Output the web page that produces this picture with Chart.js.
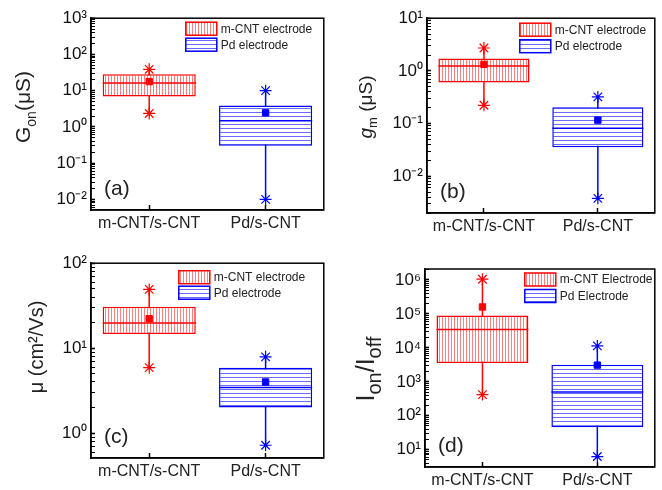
<!DOCTYPE html>
<html>
<head>
<meta charset="utf-8">
<script src="https://cdn.jsdelivr.net/npm/chart.js@4"></script>
<style>
html,body{margin:0;padding:0;background:#fff;}
#wrap{position:relative;width:662px;height:490px;overflow:hidden;}
#wrap canvas{position:absolute;}
</style>
</head>
<body>
<div id="wrap">
  <canvas id="chartA" width="331" height="245" style="left:0;top:0"></canvas>
  <canvas id="chartB" width="331" height="245" style="left:331px;top:0"></canvas>
  <canvas id="chartC" width="331" height="245" style="left:0;top:245px"></canvas>
  <canvas id="chartD" width="331" height="245" style="left:331px;top:245px"></canvas>
</div>
<script>
/* ===============================
   DATA
   box stats = [min, q1, median, q3, max, mean]
================================ */
const categories = ["m-CNT/s-CNT", "Pd/s-CNT"];
const legendLower = ["m-CNT electrode", "Pd electrode"];
const legendUpper = ["m-CNT Electrode", "Pd Electrode"];

const gonMcnt = [2.35, 6.9, 16.4, 28.6, 38.9, 17.8];
const gonPd   = [0.01, 0.30, 1.48, 3.9, 10, 2.45];
const gmMcnt  = [0.222, 0.60, 1.24, 1.72, 2.72, 1.33];
const gmPd    = [0.0038, 0.0353, 0.081, 0.203, 0.32, 0.116];
const muMcnt  = [5.9, 14.7, 19.8, 30.8, 49.2, 22.2];
const muPd    = [0.72, 2.0, 3.45, 5.9, 7.9, 4.0];
const ratioMcnt = [420, 3600, 35000, 89000, 1050000, 160000];
const ratioPd   = [6.3, 46, 500, 3200, 11400, 3100];

// y axis limits
const gonRange   = [0.0051, 1000];
const gmRange    = [0.002, 10];
const muRange    = [0.51, 100];
const ratioRange = [3.1, 2.1e6];

/* ===============================
   HELPERS
================================ */
const FONT = "'Liberation Sans', Arial, sans-serif";
Chart.defaults.font.family = FONT;

const RED = "#ff0000";
const BLUE = "#0000ff";

function stripes(vertical, step, color){
  const c = document.createElement("canvas");
  c.width = step; c.height = step;
  const g = c.getContext("2d");
  g.fillStyle = "#fff";
  g.fillRect(0, 0, step, step);
  g.fillStyle = color;
  if(vertical) g.fillRect(0, 0, 1, step);
  else g.fillRect(0, 0, step, 1);
  return g.createPattern(c, "repeat");
}
const redPattern = stripes(true, 3, "#ff8080");
const bluePattern = stripes(false, 4, "#6a6aff");
const patterns = [redPattern, bluePattern];
const colors = [RED, BLUE];

const SUP = {"0":"⁰","1":"¹","2":"²","3":"³","4":"⁴","5":"⁵","6":"⁶","7":"⁷","8":"⁸","9":"⁹","-":"⁻"};
function isDecade(v){
  const e = Math.round(Math.log10(v));
  return Math.abs(v / Math.pow(10, e) - 1) < 1e-6;
}
function decadeLabel(v){
  if(!isDecade(v)) return "";
  const e = Math.round(Math.log10(v));
  return "10" + String(e).split("").map(ch => SUP[ch]).join("");
}

function makePanel(id, cfg){
  const datasets = [];
  cfg.series.forEach((s, i) => {
    const col = colors[i];
    const box = [null, null];
    box[i] = [s[1], s[3]];
    // box q1..q3
    datasets.push({
      type: "bar", label: cfg.legend[i], data: box,
      backgroundColor: patterns[i], borderColor: col, borderWidth: 1.5,
      borderSkipped: false, grouped: false,
      barPercentage: 0.8, categoryPercentage: 1, order: 2
    });
    // whisker min..max with caps
    datasets.push({
      type: "line", xAxisID: "x2",
      data: [{x: i, y: s[0]}, {x: i, y: s[4]}],
      borderColor: col, borderWidth: 1.5,
      pointStyle: "star", pointRadius: 6, pointBorderColor: col, pointBorderWidth: 1.2,
      order: 3
    });
    // median
    datasets.push({
      type: "line", xAxisID: "x2",
      data: [{x: i - 0.4, y: s[2]}, {x: i + 0.4, y: s[2]}],
      borderColor: col, borderWidth: 1.5, pointRadius: 0, order: 1
    });
    // mean
    datasets.push({
      type: "line", xAxisID: "x2",
      data: [{x: i, y: s[5]}], showLine: false,
      pointStyle: "rect", pointRadius: 4.5,
      backgroundColor: col, borderColor: col, pointBorderWidth: 1, order: 0
    });
  });

  const decor = {
    id: "decor" + id,
    afterDraw(chart){
      const c = chart.ctx, a = chart.chartArea;
      c.save();
      // frame
      c.strokeStyle = "#000";
      c.lineWidth = 1.5;
      c.strokeRect(a.left, a.top, a.right - a.left, a.bottom - a.top);

      // legend (from the box datasets)
      let row = 0;
      chart.data.datasets.forEach(ds => {
        if(ds.type !== "bar") return;
        const bx = a.right - cfg.legendX, by = a.top + cfg.legendY + row * cfg.legendGap;
        c.fillStyle = ds.backgroundColor;
        c.fillRect(bx, by, 31, 13);
        c.strokeStyle = ds.borderColor;
        c.lineWidth = 1.5;
        c.strokeRect(bx, by, 31, 13);
        c.fillStyle = "#222";
        c.font = "12px " + FONT;
        c.textBaseline = "middle";
        c.textAlign = "left";
        c.fillText(ds.label, bx + 35, by + 7);
        row++;
      });

      // panel letter
      c.fillStyle = "#222";
      c.font = "21px " + FONT;
      c.textBaseline = "middle";
      c.fillText(cfg.letter, a.left + 13, a.bottom - 21);

      // y title with subscripts
      const size = cfg.titleSize;
      c.translate(cfg.titleX, cfg.titleY);
      c.rotate(-Math.PI / 2);
      const fontFor = seg => (seg[2] ? "italic " : "") + Math.round(seg[1] ? size * cfg.subScale : size) + "px " + FONT;
      let total = 0;
      cfg.title.forEach(seg => { c.font = fontFor(seg); total += c.measureText(seg[0]).width; });
      let cx = -total / 2;
      c.textAlign = "left";
      c.textBaseline = "alphabetic";
      cfg.title.forEach(seg => {
        c.font = fontFor(seg);
        c.fillText(seg[0], cx, seg[1] ? size * 0.28 : 0);
        cx += c.measureText(seg[0]).width;
      });
      c.restore();
    }
  };

  return new Chart(document.getElementById(id), {
    type: "bar",
    data: { labels: categories, datasets: datasets },
    options: {
      responsive: false,
      animation: false,
      layout: { padding: { top: cfg.top, right: cfg.right, left: 0, bottom: 0 } },
      plugins: { legend: { display: false }, tooltip: { enabled: false } },
      scales: {
        x: {
          type: "category", offset: true,
          grid: { drawOnChartArea: false, offset: false, tickLength: -5, tickColor: "#000", tickWidth: 1.5 },
          border: { color: "#000", width: 1.5 },
          ticks: { padding: 9, color: "#222", font: { size: 16 } },
          afterFit: s => { s.height = cfg.xh; }
        },
        // invisible helper axis for whiskers, medians and means
        x2: {
          type: "linear", position: "top", min: -0.5, max: 1.5, offset: false,
          ticks: { display: false }, grid: { display: false, offset: false }, border: { display: false },
          afterFit: s => { s.height = 0; }
        },
        y: {
          type: "logarithmic", min: cfg.range[0], max: cfg.range[1],
          afterBuildTicks: s => {
            const t = [];
            const e0 = Math.floor(Math.log10(s.min)), e1 = Math.ceil(Math.log10(s.max));
            for(let e = e0; e <= e1; e++){
              for(let m = 1; m <= 9; m++){
                const v = m * Math.pow(10, e);
                if(v >= s.min * 0.9999 && v <= s.max * 1.0001) t.push({ value: v, major: m === 1 });
              }
            }
            s.ticks = t;
          },
          ticks: { autoSkip: false, padding: 8, color: "#111", font: { size: 17 }, callback: v => decadeLabel(v) },
          grid: {
            drawOnChartArea: false, tickLength: -4, tickColor: "#000",
            tickWidth: ctx => (ctx.tick && isDecade(ctx.tick.value)) ? 1.6 : 1
          },
          border: { color: "#000", width: 1.5 },
          afterFit: s => { s.width = cfg.left; }
        }
      }
    },
    plugins: [decor]
  });
}

/* ===============================
   PANELS
================================ */
makePanel("chartA", {
  series: [gonMcnt, gonPd], range: gonRange, legend: legendLower, letter: "(a)",
  left: 91, right: 6, top: 13, xh: 35,
  legendX: 138, legendY: 4, legendGap: 16,
  title: [["G", 0], ["on", 1], ["(μS)", 0]], subScale: 0.68, titleSize: 21, titleX: 30, titleY: 107
});
makePanel("chartB", {
  series: [gmMcnt, gmPd], range: gmRange, legend: legendLower, letter: "(b)",
  left: 96, right: 3, top: 15, xh: 32,
  legendX: 135, legendY: 5, legendGap: 16.5,
  title: [["g", 0, true], ["m", 1], [" (μS)", 0]], subScale: 0.68, titleSize: 19, titleX: 41, titleY: 107
});
makePanel("chartC", {
  series: [muMcnt, muPd], range: muRange, legend: legendLower, letter: "(c)",
  left: 91, right: 6, top: 15, xh: 32,
  legendX: 145, legendY: 7.5, legendGap: 15.5,
  title: [["μ (cm²/Vs)", 0]], subScale: 0.68, titleSize: 20, titleX: 43, titleY: 102
});
makePanel("chartD", {
  series: [ratioMcnt, ratioPd], range: ratioRange, legend: legendUpper, letter: "(d)",
  left: 94, right: 3, top: 24, xh: 23,
  legendX: 130, legendY: 4, legendGap: 16.5,
  title: [["I", 0], ["on", 1], ["/I", 0], ["off", 1]], subScale: 0.78, titleSize: 25, titleX: 43, titleY: 124
});
</script>
</body>
</html>
